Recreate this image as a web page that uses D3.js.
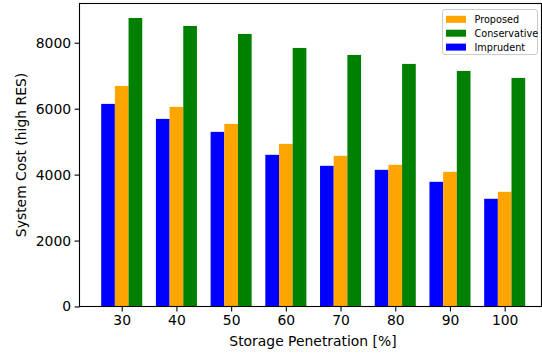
<!DOCTYPE html>
<html>
<head>
<meta charset="utf-8">
<script src="https://cdn.jsdelivr.net/npm/d3@7"></script>
<style>
  html, body { margin: 0; padding: 0; background: #fff; }
  svg { display: block; font-family: "DejaVu Sans", sans-serif; }
</style>
</head>
<body>
<svg id="chart" width="542" height="354"></svg>
<script>
// Storage penetration levels on the x axis
const categories = [30, 40, 50, 60, 70, 80, 90, 100];
// System cost per scenario
const imprudent    = [6145, 5690, 5297, 4600, 4267, 4145, 3782, 3267];
const proposed     = [6691, 6055, 5539, 4933, 4570, 4297, 4085, 3479];
const conservative = [8751, 8509, 8267, 7842, 7630, 7358, 7145, 6933];
const yTicks = [0, 2000, 4000, 6000, 8000];

const series = [
  { name: "Imprudent",    values: imprudent,    color: "#0000ff", offset: -0.25 },
  { name: "Proposed",     values: proposed,     color: "#ffa500", offset: 0 },
  { name: "Conservative", values: conservative, color: "#008000", offset: 0.25 }
];
const legendOrder = ["Proposed", "Conservative", "Imprudent"];
const barWidth = 0.25;

const svg = d3.select("#chart");
const plotLeft = 79.5, plotRight = 541.5, plotTop = 3.5, plotBottom = 306.5;

// index-based x scale (categories are evenly spaced groups)
const x = d3.scaleLinear().domain([-0.7625, 7.7625]).range([80, 546.4]);
const y = d3.scaleLinear().domain([0, 9190]).range([plotBottom, plotTop]);

// bars
series.forEach(s => {
  svg.append("g").selectAll("rect")
    .data(s.values)
    .join("rect")
    .attr("x", (d, i) => x(i + s.offset - barWidth / 2))
    .attr("width", (d, i) => x(i + s.offset + barWidth / 2) - x(i + s.offset - barWidth / 2))
    .attr("y", d => y(d))
    .attr("height", d => y(0) - y(d))
    .attr("fill", s.color);
});

// axes
const xAxis = d3.axisBottom(x)
  .tickValues(d3.range(categories.length))
  .tickFormat(i => categories[i])
  .tickSize(4.9).tickPadding(3.5);
const yAxis = d3.axisLeft(y)
  .tickValues(yTicks)
  .tickFormat(d3.format("d"))
  .tickSize(4.9).tickPadding(3.5);

const gx = svg.append("g").attr("transform", `translate(0,${plotBottom})`).call(xAxis);
const gy = svg.append("g").attr("transform", `translate(${plotLeft},0)`).call(yAxis);
[gx, gy].forEach(g => {
  g.select(".domain").remove();
  g.selectAll(".tick line").attr("stroke", "#000").attr("stroke-width", 1.1);
  g.selectAll(".tick text").attr("fill", "#000")
    .style("font-family", "DejaVu Sans, sans-serif").style("font-size", "13.9px");
});

// frame
svg.append("rect")
  .attr("x", plotLeft).attr("y", plotTop)
  .attr("width", plotRight - plotLeft).attr("height", plotBottom - plotTop)
  .attr("fill", "none").attr("stroke", "#000").attr("stroke-width", 1.1);

// axis titles
svg.append("text")
  .attr("x", 313).attr("y", 346)
  .attr("text-anchor", "middle")
  .style("font-size", "13.9px")
  .text("Storage Penetration [%]");
svg.append("text")
  .attr("transform", `translate(26,155) rotate(-90)`)
  .attr("text-anchor", "middle")
  .style("font-size", "13.9px")
  .text("System Cost (high RES)");

// legend
const lg = svg.append("g").attr("transform", "translate(442.5,9.5)");
lg.append("rect")
  .attr("width", 95).attr("height", 45).attr("rx", 2.5)
  .attr("fill", "#fff").attr("fill-opacity", 0.8)
  .attr("stroke", "#cccccc").attr("stroke-width", 1);
legendOrder.forEach((name, k) => {
  const s = series.find(d => d.name === name);
  const row = lg.append("g").attr("transform", `translate(0,${6.3 + k * 13.9})`);
  row.append("rect").attr("x", 3.5).attr("y", 0).attr("width", 20).attr("height", 7).attr("fill", s.color);
  row.append("text").attr("x", 32).attr("y", 7.2)
    .style("font-size", "9.7px").text(name);
});
</script>
</body>
</html>
